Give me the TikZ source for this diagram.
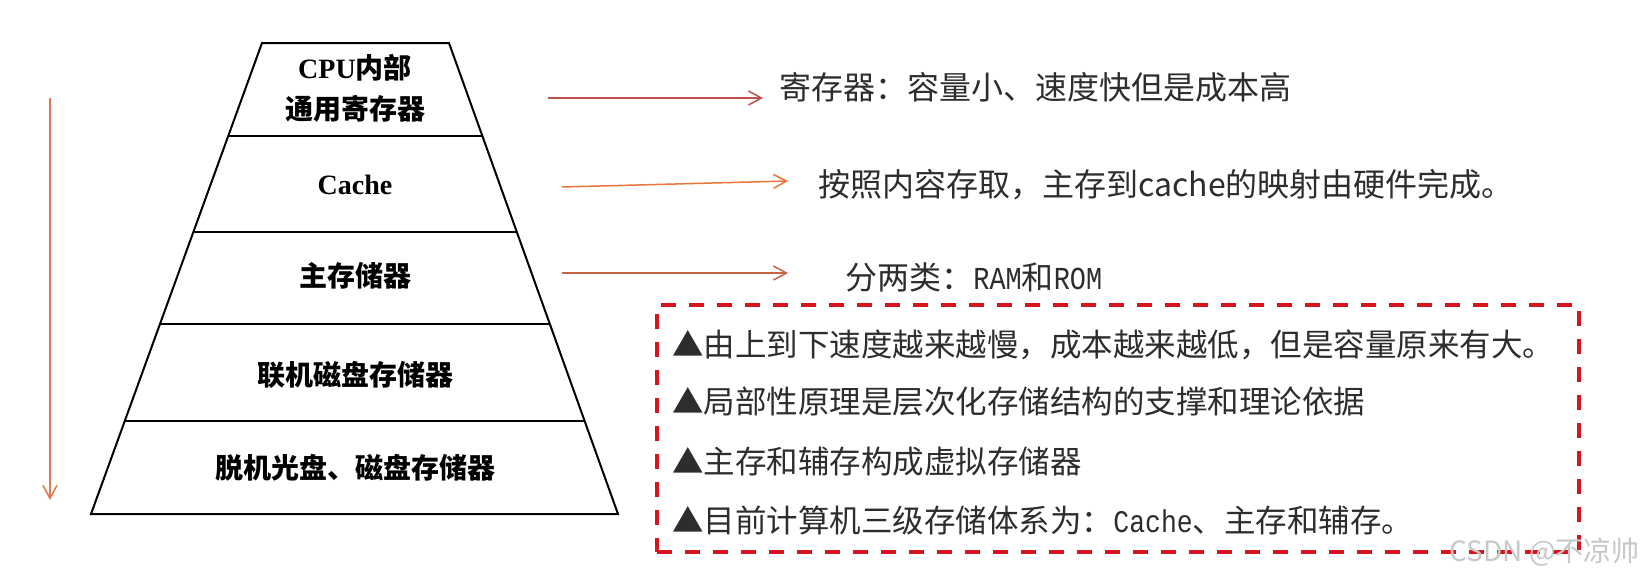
\documentclass[tikz,border=0pt]{standalone}
\usepackage{fontspec}
\usetikzlibrary{arrows.meta,calc}
\newfontfamily\cjk{Noto Sans CJK SC}
\newfontfamily\tnr{Liberation Serif}
\newfontfamily\hw{Liberation Mono}[FakeStretch=0.84]
\definecolor{arrRed}{RGB}{192,80,77}
\definecolor{arrOrange}{RGB}{232,118,60}
\definecolor{arrBrown}{RGB}{200,100,70}
\definecolor{arrLeft}{RGB}{226,120,80}
\definecolor{boxRed}{RGB}{214,20,30}
\definecolor{txtGray}{RGB}{45,45,45}
\definecolor{wmGray}{RGB}{200,200,200}
\begin{document}
\begin{tikzpicture}[x=0.5pt,y=-0.5pt,
  pyr/.style={font=\fontsize{14}{20.5}\selectfont\bfseries\cjk, inner sep=0, align=center},
  rtxt/.style={font=\fontsize{16}{20}\selectfont\cjk, anchor=west, inner sep=0, text=txtGray},
  btxt/.style={font=\fontsize{15.75}{20}\selectfont\cjk, anchor=west, inner sep=0, text=txtGray},
  arr/.style={line width=0.75pt, -{Straight Barb[length=6.5pt,width=7pt,line width=0.75pt]}},
  layer/.style={line width=1.1pt},
  outline/.style={line width=1pt, line join=miter},
  dashbox/.style={draw=boxRed, line width=1.75pt, dash pattern=on 7.5pt off 6.5pt, inner sep=0, minimum width=461pt, minimum height=123.5pt, anchor=north west},
  wm/.style={font=\fontsize{14}{16}\selectfont\cjk, text=wmGray, anchor=east, inner sep=0}
]
\useasboundingbox (0,0) rectangle (1640,578);
\fill[white] (0,0) rectangle (1640,578);

% pyramid
\coordinate (TL) at (262,43);
\coordinate (TR) at (449,43);
\coordinate (BR) at (618,514);
\coordinate (BL) at (91,514);
\draw[outline] (TL) -- (TR) -- (BR) -- (BL) -- cycle;
\foreach \t in {0.1975,0.4013,0.5966,0.8025}
  \draw[layer] ($(TL)!\t!(BL)$) -- ($(TR)!\t!(BR)$);

\node[pyr] (p1) at (355,88) {{\tnr CPU}内部\\通用寄存器};
\node[pyr] (p2) at (355,185) {{\tnr Cache}};
\node[pyr] (p3) at (355,276) {主存储器};
\node[pyr] (p4) at (355,375) {联机磁盘存储器};
\node[pyr] (p5) at (355,468) {脱机光盘、磁盘存储器};

% left arrow
\coordinate (vs) at (50,98);
\coordinate (ve) at (50,500);
\draw[arr, arrLeft] (vs) -- (ve);

% right texts
\node[rtxt] (t1) at (779,87) {寄存器：容量小、速度快但是成本高};
\node[rtxt] (t2) at (818,185) {按照内容存取，主存到cache的映射由硬件完成。};
\node[rtxt] (t3) at (845,277) {分两类：{\hw RAM}和{\hw ROM}};

\coordinate (s1) at (548,98);
\coordinate (s2) at (562,187);
\coordinate (s3) at (562,273);
\draw[arr, arrRed] (s1) -- ([xshift=-8pt]t1.west |- s1);
\draw[arr, arrOrange] (s2) -- ([xshift=-15pt,yshift=2pt]t2.west);
\draw[arr, arrBrown] (s3) -- ([xshift=-28.5pt]t3.west |- s3);

% dashed box
\node[dashbox] (box) at (655,303) {};
\node[btxt] (b1) at (672,345) {▲由上到下速度越来越慢，成本越来越低，但是容量原来有大。};
\node[btxt] (b2) at (672,402) {▲局部性原理是层次化存储结构的支撑和理论依据};
\node[btxt] (b3) at (672,462) {▲主存和辅存构成虚拟存储器};
\node[btxt] (b4) at (672,520) {▲目前计算机三级存储体系为：{\hw Cache}、主存和辅存。};

% watermark
\node[wm] (wmk) at (1640,552) {CSDN @不凉帅};
\end{tikzpicture}
\end{document}
